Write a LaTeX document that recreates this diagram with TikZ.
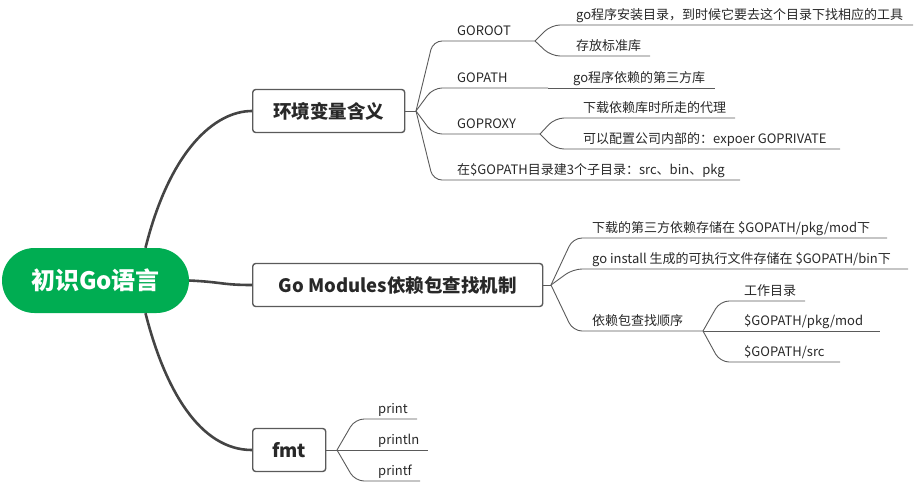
\documentclass[tikz,border=0pt]{standalone}
\usepackage{fontspec}
\setmainfont{Noto Sans CJK SC}
\definecolor{rootgreen}{RGB}{0,173,82}
\definecolor{linegray}{RGB}{90,90,90}
\definecolor{trunkgray}{RGB}{68,68,68}
\definecolor{textgray}{RGB}{40,40,40}
\tikzset{
	root/.style={fill=rootgreen, text=white, rounded corners=32.5pt, minimum width=187pt, minimum height=65pt, inner sep=0pt, font=\fontsize{24}{26}\selectfont\bfseries},
	topic/.style={draw=linegray, fill=white, line width=1.4pt, rounded corners=3pt, anchor=west, inner sep=0pt, minimum height=43pt, text=textgray, font=\fontsize{18.5}{20}\selectfont\bfseries},
	leaf/.style={anchor=base west, inner sep=0pt, text=textgray, font=\fontsize{13}{15}\selectfont},
	trunk/.style={draw=trunkgray, line width=2.6pt},
	twig/.style={draw=linegray, line width=0.9pt, rounded corners=9pt},
}
\begin{document}
\begin{tikzpicture}[x=1pt, y=-1pt]
			\useasboundingbox (0,0) rectangle (914,483);
			\node[root] (root) at (95.5,280.5) {初识Go语言};
			\node[topic, minimum width=152pt] (env) at (252,111) {环境变量含义};
			\node[topic, minimum width=290pt] (mods) at (252,285) {Go Modules依赖包查找机制};
			\node[topic, minimum width=73pt] (fmt) at (252,450) {fmt};
			\draw[trunk] ([xshift=50pt]root.north) .. controls (170,150) and (215,111) .. (env.west);
			\draw[trunk] (root.east) .. controls (222,282) and (222,285) .. (mods.west);
			\draw[trunk] ([xshift=50pt]root.south) .. controls (165,390) and (200,450) .. (fmt.west);
			% 环境变量含义
			\coordinate (env-f) at (416,111);
			\draw[twig] (env.east) -- (env-f);
			\coordinate (goroot-s) at (433,41);
			\coordinate (goroot-e) at (535,41);
			\node[leaf] (goroot) at (457,35) {GOROOT};
			\draw[twig] (env-f) -- (goroot-s) -- (goroot-e);
			\coordinate (tools-s) at (551,25);
			\coordinate (tools-e) at (913,25);
			\node[leaf] (tools) at (576,19) {go程序安装目录，到时候它要去这个目录下找相应的工具};
			\draw[twig] (goroot-e) -- (tools-s) -- (tools-e);
			\coordinate (stdlib-s) at (551,56);
			\coordinate (stdlib-e) at (650,56);
			\node[leaf] (stdlib) at (576,50) {存放标准库};
			\draw[twig] (goroot-e) -- (stdlib-s) -- (stdlib-e);
			\coordinate (gopath-s) at (433,88);
			\coordinate (gopath-e) at (548,88);
			\node[leaf] (gopath) at (457,82) {GOPATH};
			\draw[twig] (env-f) -- (gopath-s) -- (gopath-e);
			\coordinate (thirdlib-e) at (715,88);
			\node[leaf] (thirdlib) at (573,82) {go程序依赖的第三方库};
			\draw[twig] (gopath-e) -- (thirdlib-e);
			\coordinate (goproxy-s) at (433,134);
			\coordinate (goproxy-e) at (540,134);
			\node[leaf] (goproxy) at (457,128) {GOPROXY};
			\draw[twig] (env-f) -- (goproxy-s) -- (goproxy-e);
			\coordinate (proxy-s) at (555,118);
			\coordinate (proxy-e) at (735,118);
			\node[leaf] (proxy) at (583,112) {下载依赖库时所走的代理};
			\draw[twig] (goproxy-e) -- (proxy-s) -- (proxy-e);
			\coordinate (private-s) at (555,149);
			\coordinate (private-e) at (840,149);
			\node[leaf] (private) at (583,143) {可以配置公司内部的：expoer GOPRIVATE};
			\draw[twig] (goproxy-e) -- (private-s) -- (private-e);
			\coordinate (subdirs-s) at (433,180);
			\coordinate (subdirs-e) at (740,180);
			\node[leaf] (subdirs) at (457,174) {在\$GOPATH目录建3个子目录：src、bin、pkg};
			\draw[twig] (env-f) -- (subdirs-s) -- (subdirs-e);
			% Go Modules
			\coordinate (mods-f) at (551,285);
			\draw[twig] (mods.east) -- (mods-f);
			\coordinate (pkgmod-s) at (573,238);
			\coordinate (pkgmod-e) at (887,238);
			\node[leaf] (pkgmod) at (592,232) {下载的第三方依赖存储在 \$GOPATH/pkg/mod下};
			\draw[twig] (mods-f) -- (pkgmod-s) -- (pkgmod-e);
			\coordinate (binpath-s) at (573,269);
			\coordinate (binpath-e) at (908,269);
			\node[leaf] (binpath) at (592,263) {go install 生成的可执行文件存储在 \$GOPATH/bin下};
			\draw[twig] (mods-f) -- (binpath-s) -- (binpath-e);
			\coordinate (order-s) at (573,331);
			\coordinate (order-e) at (703,331);
			\node[leaf] (order) at (592,325) {依赖包查找顺序};
			\draw[twig] (mods-f) -- (order-s) -- (order-e);
			\coordinate (workdir-s) at (720,301);
			\coordinate (workdir-e) at (805,301);
			\node[leaf] (workdir) at (744,295) {工作目录};
			\draw[twig] (order-e) -- (workdir-s) -- (workdir-e);
			\coordinate (modpath-e) at (880,331);
			\node[leaf] (modpath) at (744,325) {\$GOPATH/pkg/mod};
			\draw[twig] (order-e) -- (modpath-e);
			\coordinate (srcpath-s) at (720,362);
			\coordinate (srcpath-e) at (840,362);
			\node[leaf] (srcpath) at (744,356) {\$GOPATH/src};
			\draw[twig] (order-e) -- (srcpath-s) -- (srcpath-e);
			% fmt
			\coordinate (fmt-f) at (337,450);
			\draw[twig] (fmt.east) -- (fmt-f);
			\coordinate (print-s) at (355,419);
			\coordinate (print-e) at (417,419);
			\node[leaf] (print) at (378,413) {print};
			\draw[twig] (fmt-f) -- (print-s) -- (print-e);
			\coordinate (println-e) at (428,450);
			\node[leaf] (println) at (378,444) {println};
			\draw[twig] (fmt-f) -- (println-e);
			\coordinate (printf-s) at (355,481);
			\coordinate (printf-e) at (420,481);
			\node[leaf] (printf) at (378,475) {printf};
			\draw[twig] (fmt-f) -- (printf-s) -- (printf-e);
		\end{tikzpicture}
\end{document}
